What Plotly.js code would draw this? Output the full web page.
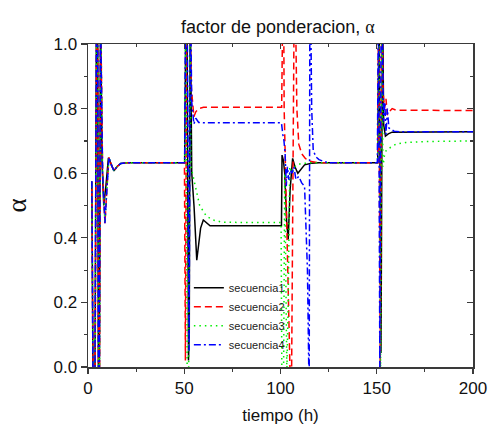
<!DOCTYPE html>
<html>
<head>
<meta charset="utf-8">
<script src="https://cdn.plot.ly/plotly-3.0.1.min.js"></script>
<style>
html,body{margin:0;padding:0;background:#fff;}
#chart{width:490px;height:428px;}
</style>
</head>
<body>
<div id="chart"></div>
<script>
// ---- data ----
const seriesNames = ["secuencia1", "secuencia2", "secuencia3", "secuencia4"];

const t1 = [2, 2.6, 3.6, 4.4, 5.0, 5.4, 5.9, 6.5, 7.3, 8.2, 9.3, 10.6, 12.2, 13.5, 15, 17, 20,
  50.2, 50.9, 51.4, 52.2, 52.6, 53.1, 53.9, 55.1, 56.5, 57.5, 58.5, 59.9, 61.7, 63.4, 66,
  100.5, 100.8, 101.5, 102.2, 103.2, 104, 105, 106.3, 107.5, 109, 110.5, 112.5, 116, 120,
  150.5, 151.2, 152.2, 153.0, 153.6, 154.5, 156, 158, 200];
const a1 = [0.575, -0.05, -0.05, 1.1, 1.1, -0.05, -0.05, 1.1, 0.63, 0.50, 0.56, 0.648, 0.625, 0.607, 0.62, 0.63, 0.632,
  0.632, 1.15, 1.15, 0.02, 0.1, 1.15, 0.6, 0.496, 0.331, 0.38, 0.43, 0.455, 0.445, 0.437, 0.437,
  0.437, 0.656, 0.64, 0.60, 0.45, 0.395, 0.55, 0.646, 0.62, 0.60, 0.612, 0.626, 0.631, 0.632,
  0.632, 1.15, 0.043, 1.15, 0.75, 0.715, 0.722, 0.727, 0.728];

const t2 = [2, 2.7, 3.7, 4.5, 5.1, 5.5, 6.0, 6.6, 7.6, 8.8, 9.8, 10.9, 12.2, 13.5, 15, 17, 20,
  50.1, 50.6, 51.3, 52.8, 53.6, 55.0, 56.0, 57.5, 60,
  100.6, 101.0, 101.5, 101.9, 103.2, 105.2, 105.7, 107.3, 107.8, 108.5, 109.5, 111, 113, 116, 120,
  150.5, 151.0, 151.8, 152.6, 153.3, 154.0, 154.8, 155.5, 156.5, 158, 160, 200];
const a2 = [0.55, -0.05, -0.05, 1.1, 1.1, -0.05, -0.05, 1.1, 0.6, 0.445, 0.55, 0.649, 0.625, 0.607, 0.62, 0.63, 0.632,
  0.632, 0.02, 1.15, 1.15, 0.87, 0.775, 0.79, 0.80, 0.804,
  0.804, 1.3, 1.3, 0.8, 0.44, -0.08, -0.08, 1.3, 1.1, 0.80, 0.69, 0.66, 0.645, 0.636, 0.632,
  0.632, 1.15, 0.0, 1.15, 0.85, 0.80, 0.83, 0.78, 0.79, 0.80, 0.795, 0.794];

const t3 = [2, 2.7, 3.7, 4.5, 5.1, 5.5, 6.0, 6.6, 7.6, 8.8, 9.8, 10.9, 12.2, 13.5, 15, 17, 20,
  50.2, 50.8, 51.5, 52.3, 53.0, 53.5, 55.5, 58, 61.5, 65, 70,
  100.3, 100.7, 101.6, 102.2, 102.8, 103.3, 104.0, 104.8, 106, 108, 111, 115,
  150.5, 151.2, 152.0, 152.7, 153.2, 154, 155, 157, 160, 165, 175, 200];
const a3 = [0.56, -0.05, -0.05, 1.1, 1.1, -0.05, -0.05, 1.1, 0.6, 0.445, 0.55, 0.649, 0.625, 0.607, 0.62, 0.63, 0.632,
  0.632, 1.1, 0.0, 0.0, 1.05, 0.62, 0.565, 0.50, 0.467, 0.455, 0.448,
  0.447, -0.02, -0.02, 0.6, 0.3, -0.02, 0.2, 0.62, 0.60, 0.625, 0.63, 0.632,
  0.632, 1.1, 0.0, 1.1, 0.62, 0.655, 0.672, 0.68, 0.69, 0.695, 0.698, 0.70];

const t4 = [2, 2.6, 3.6, 4.4, 5.0, 5.4, 5.9, 6.5, 7.6, 8.8, 9.8, 10.9, 12.2, 13.5, 15, 17, 20,
  50.2, 50.7, 51.5, 52.5, 53.2, 53.9, 55, 56, 57.5, 60,
  100.5, 101.2, 101.8, 102.4, 103, 103.6, 104.3, 105, 106, 107, 108, 109.5, 111, 112.5, 114.0, 114.9, 115.3, 115.7, 116.2, 117, 118.5, 120, 123, 126,
  150.3, 150.9, 151.6, 152.3, 153.0, 153.5, 154.2, 154.8, 155.5, 156.3, 157.5, 159, 162, 200];
const a4 = [0.575, -0.05, -0.05, 1.1, 1.1, -0.05, -0.05, 1.1, 0.6, 0.445, 0.55, 0.649, 0.625, 0.607, 0.62, 0.63, 0.632,
  0.632, 1.15, 1.15, 0.05, 1.15, 0.82, 0.752, 0.77, 0.757, 0.756,
  0.756, 0.72, 0.70, 0.66, 0.56, 0.62, 0.58, 0.61, 0.60, 0.62, 0.58, 0.59, 0.57, 0.56, 0.3, -0.1, 1.3, 1.1, 0.8, 0.67, 0.65, 0.642, 0.635, 0.632,
  0.632, 1.15, 0.0, 1.15, 1.0, 0.76, 0.82, 0.72, 0.80, 0.74, 0.735, 0.73, 0.728, 0.728];

const xTickVals = [0, 50, 100, 150, 200];
const yTickVals = [0.0, 0.2, 0.4, 0.6, 0.8, 1.0];
const yTickText = ["0.0", "0.2", "0.4", "0.6", "0.8", "1.0"];

// ---- styles ----
const lineStyles = [
  {color: "#000000", width: 1.5, dash: "solid"},
  {color: "#ff0000", width: 1.5, dash: "7px,4px"},
  {color: "#00ee00", width: 1.5, dash: "1.5px,4px"},
  {color: "#0000ff", width: 1.5, dash: "7px,3px,2px,3px"}
];
const xs = [t1, t2, t3, t4];
const ys = [a1, a2, a3, a4];

const traces = xs.map((x, i) => ({
  type: "scatter", mode: "lines", name: seriesNames[i],
  x: x, y: ys[i], line: lineStyles[i], hoverinfo: "skip"
}));
// empty trace to attach the mirrored (top/right) axes
traces.push({type: "scatter", mode: "lines", x: [], y: [], xaxis: "x2", yaxis: "y2", showlegend: false});

const axisColor = "#3a3a3a";
const font = "Liberation Sans, Arial, Helvetica, sans-serif";

const layout = {
  width: 490, height: 428,
  margin: {l: 88, r: 17, t: 44, b: 61},
  paper_bgcolor: "#fff", plot_bgcolor: "#fff",
  font: {family: font, color: "#111", size: 17},
  title: {
    text: 'factor de ponderacion, <span style="font-family:Liberation Serif, Times New Roman, serif">α</span>',
    font: {family: font, size: 18, color: "#111"},
    x: 0.567, xanchor: "center", y: 0.938, yanchor: "middle"
  },
  showlegend: true,
  legend: {
    x: 0.262, y: 0.29, xanchor: "left", yanchor: "top",
    bgcolor: "rgba(0,0,0,0)", borderwidth: 0,
    font: {family: font, size: 11, color: "#222"},
    tracegroupgap: 0
  },
  xaxis: {
    range: [0, 200], tickvals: xTickVals, ticks: "outside", ticklen: 5, tickwidth: 1.2,
    tickcolor: axisColor, showline: true, linecolor: axisColor, linewidth: 1.5,
    showgrid: false, zeroline: false,
    minor: {dtick: 25, ticks: "outside", ticklen: 3, tickcolor: axisColor, tickwidth: 1.2, showgrid: false},
    tickfont: {family: font, size: 17, color: "#111"},
    title: {text: "tiempo (h)", font: {family: font, size: 17, color: "#111"}, standoff: 12}
  },
  yaxis: {
    range: [0, 1], tickvals: yTickVals, ticktext: yTickText, ticks: "outside", ticklen: 6, tickwidth: 1.2,
    tickcolor: axisColor, showline: true, linecolor: axisColor, linewidth: 1.5,
    showgrid: false, zeroline: false,
    minor: {dtick: 0.1, ticks: "outside", ticklen: 3, tickcolor: axisColor, tickwidth: 1.2, showgrid: false},
    tickfont: {family: font, size: 17, color: "#111"},
    title: {text: "α", font: {family: "Liberation Serif, Times New Roman, serif", size: 27, color: "#111"}, standoff: 19}
  },
  xaxis2: {
    overlaying: "x", side: "top", anchor: "y2", range: [0, 200], tickvals: xTickVals,
    ticks: "inside", ticklen: 5, tickwidth: 1.2, tickcolor: axisColor, showticklabels: false,
    showline: true, linecolor: axisColor, linewidth: 1.5, showgrid: false, zeroline: false,
    minor: {dtick: 25, ticks: "inside", ticklen: 3, tickcolor: axisColor, tickwidth: 1.2, showgrid: false}
  },
  yaxis2: {
    overlaying: "y", side: "right", anchor: "x2", range: [0, 1], tickvals: yTickVals,
    ticks: "inside", ticklen: 6, tickwidth: 1.2, tickcolor: axisColor, showticklabels: false,
    showline: true, linecolor: axisColor, linewidth: 1.5, showgrid: false, zeroline: false,
    minor: {dtick: 0.1, ticks: "inside", ticklen: 3, tickcolor: axisColor, tickwidth: 1.2, showgrid: false}
  }
};

Plotly.newPlot("chart", traces, layout, {staticPlot: true, displayModeBar: false});
</script>
</body>
</html>
